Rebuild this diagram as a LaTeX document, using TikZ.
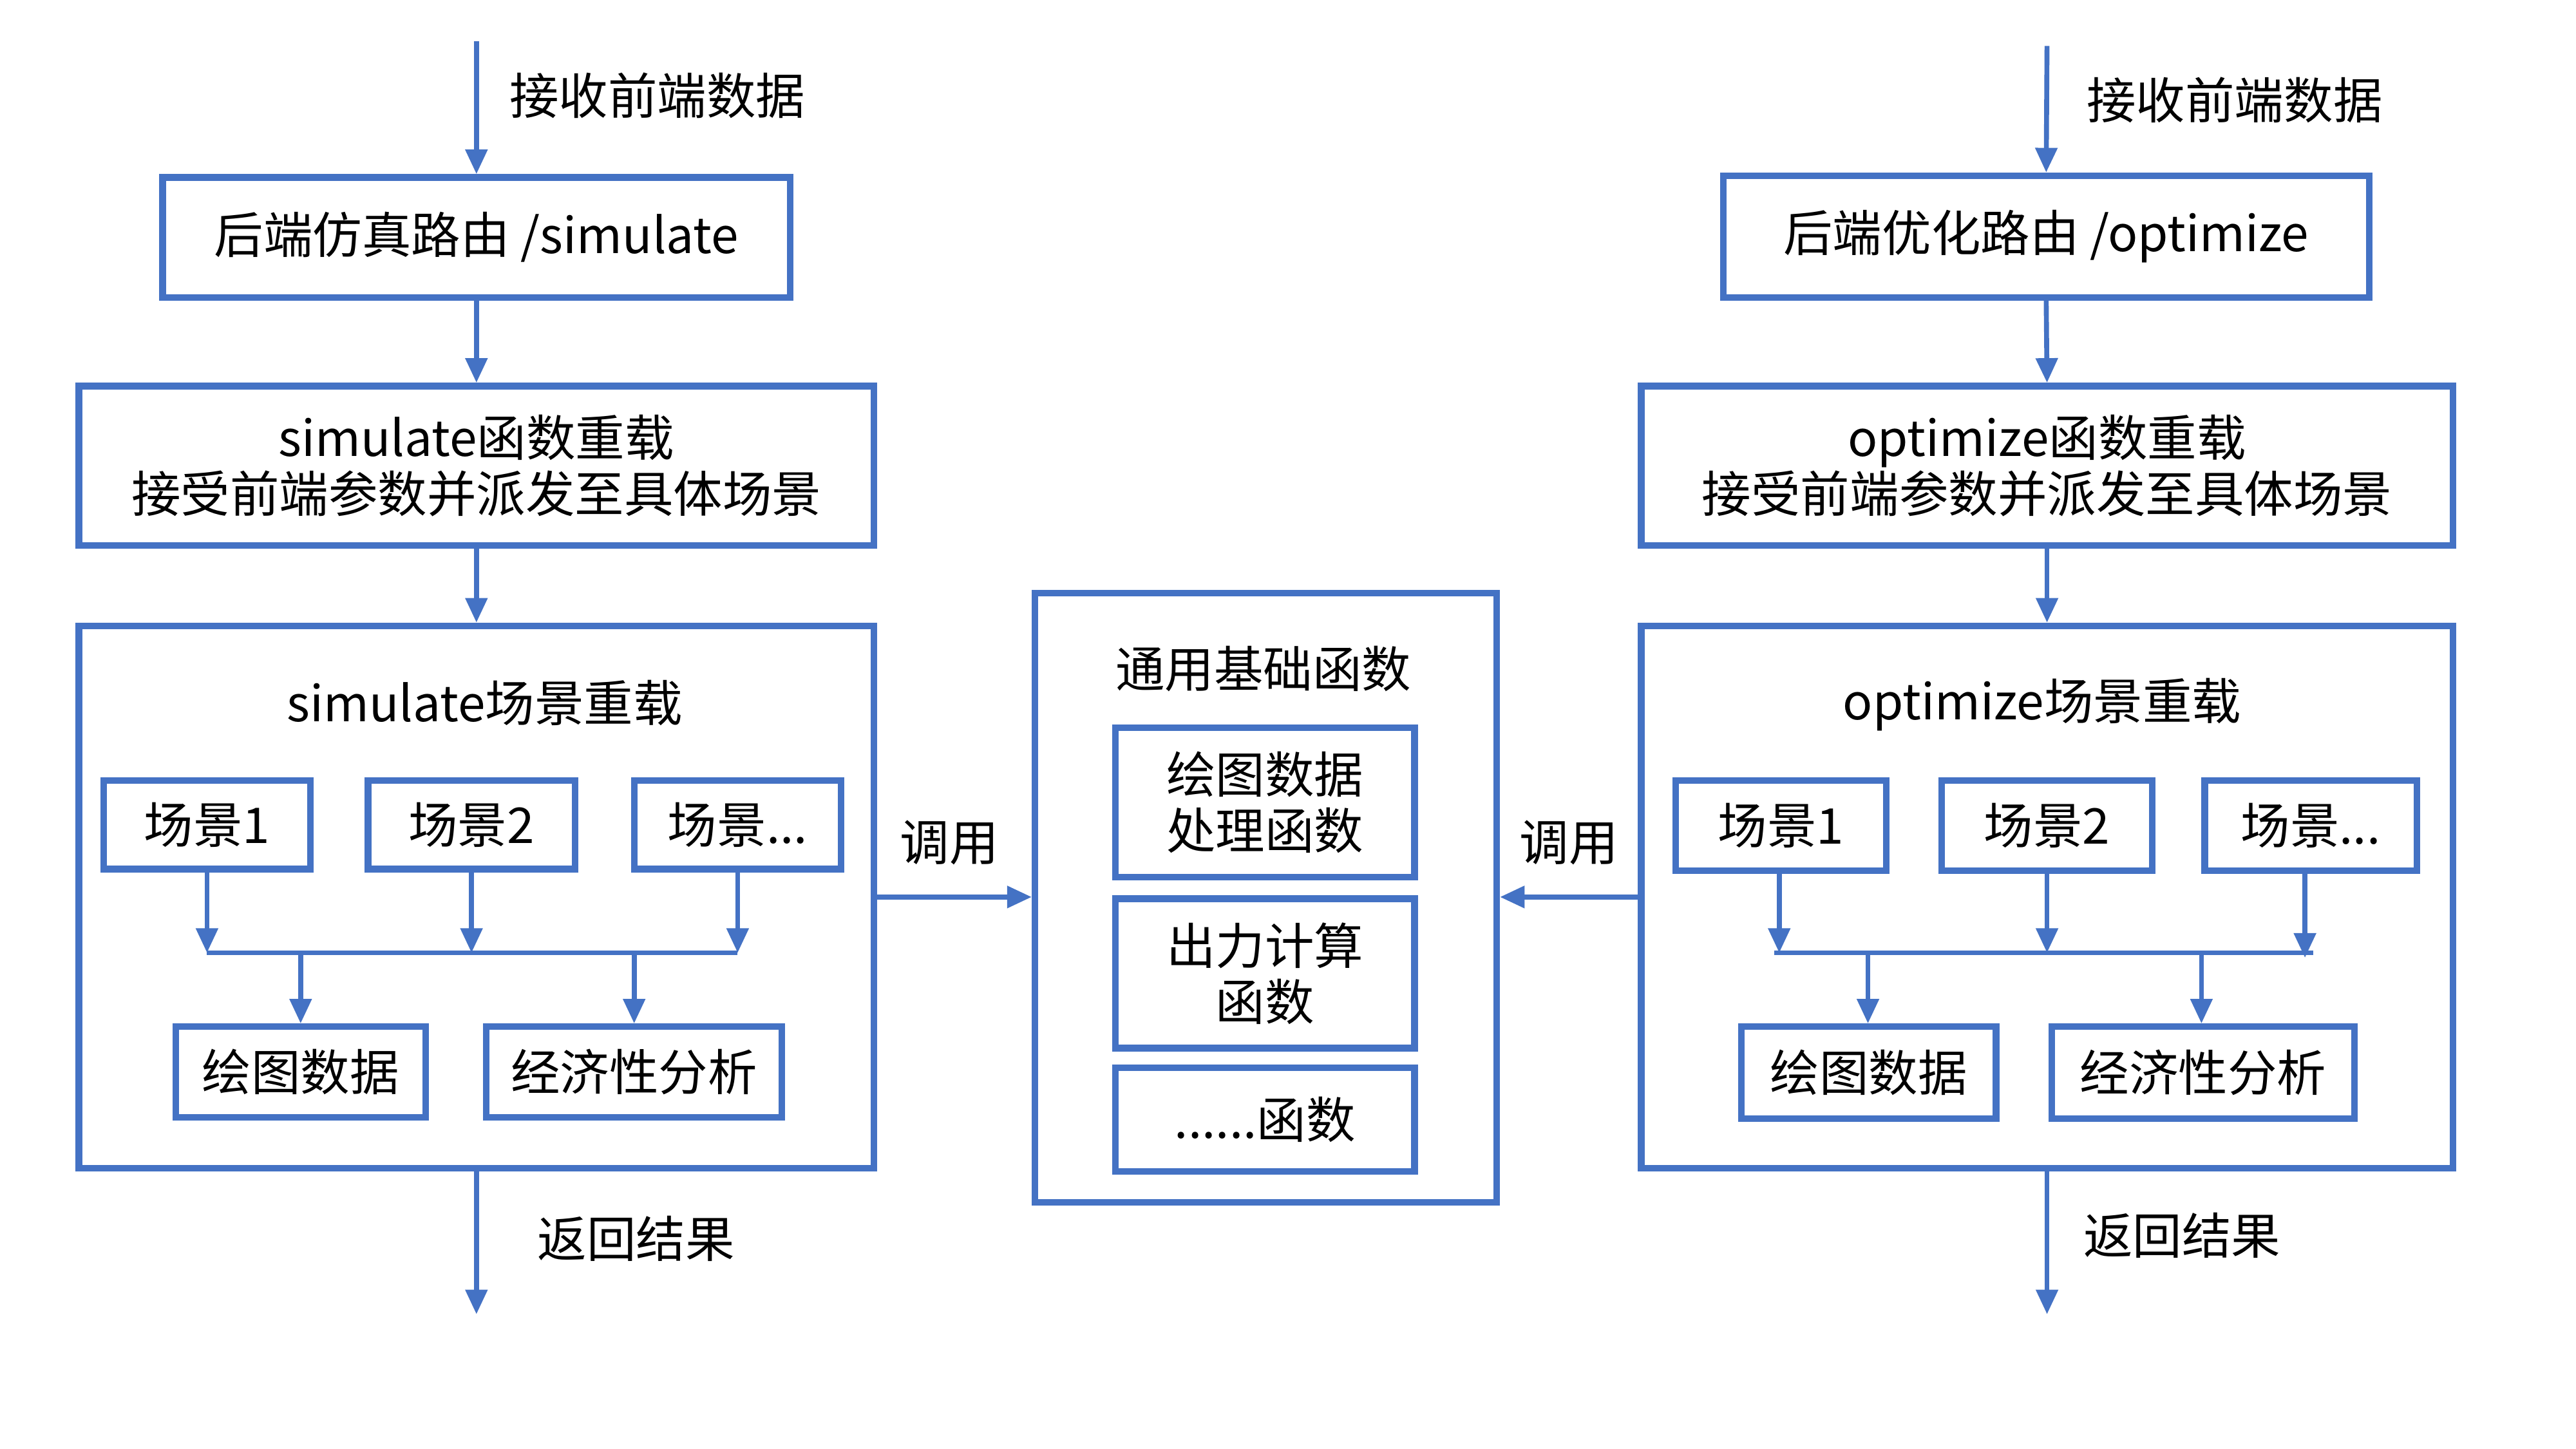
\documentclass[tikz,border=0pt]{standalone}
\usepackage{fontspec}
\setmainfont{Noto Sans CJK SC}
\usetikzlibrary{arrows.meta}
\definecolor{flowblue}{HTML}{4472C4}
\tikzset{
  box/.style={draw=flowblue, line width=4pt, fill=white, inner sep=0pt,
    align=center, font=\fontsize{30}{34}\selectfont},
  txt/.style={inner sep=0pt, font=\fontsize{30}{34}\selectfont},
  flow/.style={draw=flowblue, line width=3pt,
    -{Triangle[length=15pt,width=13pt]}},
  bus/.style={draw=flowblue, line width=3pt},
}
\begin{document}
\begin{tikzpicture}[x=1pt,y=-1pt]
\useasboundingbox (0,0) rectangle (1568,882);

% ---------- simulate column ----------
\node[box, minimum width=382pt, minimum height=73pt] (L1) at (290,144.5) {后端仿真路由 /simulate};
\node[box, minimum width=484pt, minimum height=97pt] (L2) at (290,283.5) {simulate函数重载\\接受前端参数并派发至具体场景};
\node[box, minimum width=484pt, minimum height=330pt] (L3) at (290,546) {};
\node[txt] (L3t) at (295,428) {simulate场景重载};
\node[box, minimum width=126pt, minimum height=54pt] (Ls1) at (126,502) {场景1};
\node[box, minimum width=126pt, minimum height=54pt] (Ls2) at (287,502) {场景2};
\node[box, minimum width=126pt, minimum height=54pt] (Ls3) at (449,502) {场景...};
\node[box, minimum width=152pt, minimum height=55pt] (Lp) at (183,652.5) {绘图数据};
\node[box, minimum width=180pt, minimum height=55pt] (Le) at (386,652.5) {经济性分析};

\coordinate (Lin) at (290,25);
\coordinate (Lout) at (290,800);
\coordinate (Lb1) at (126,580);
\coordinate (Lb2) at (287,580);
\coordinate (Lb3) at (449,580);
\coordinate (Lbp) at (183,580);
\coordinate (Lbe) at (386,580);

\draw[flow] (Lin) -- (L1.north);
\draw[flow] (L1.south) -- (L2.north);
\draw[flow] (L2.south) -- (L3.north);
\draw[flow] (L3.south) -- (Lout);
\draw[flow] (Ls1.south) -- (Lb1);
\draw[flow] (Ls2.south) -- (Lb2);
\draw[flow] (Ls3.south) -- (Lb3);
\draw[bus] (Lb1) -- (Lb3);
\draw[flow] (Lbp) -- (Lp.north);
\draw[flow] (Lbe) -- (Le.north);

\node[txt, anchor=west] (Lint) at (310,58) {接收前端数据};
\node[txt, anchor=west] (Loutt) at (327,754) {返回结果};

% ---------- shared functions ----------
\node[box, minimum width=281pt, minimum height=371pt] (M) at (770.5,546.5) {};
\node[txt] (Mt) at (769,407) {通用基础函数};
\node[box, minimum width=182pt, minimum height=91pt] (M1) at (770,488.5) {绘图数据\\处理函数};
\node[box, minimum width=182pt, minimum height=91pt] (M2) at (770,592.5) {出力计算\\函数};
\node[box, minimum width=182pt, minimum height=63pt] (M3) at (770,681.5) {......函数};

% ---------- optimize column ----------
\node[box, minimum width=393pt, minimum height=74pt] (R1) at (1245.5,144) {后端优化路由 /optimize};
\node[box, minimum width=494pt, minimum height=97pt] (R2) at (1246,283.5) {optimize函数重载\\接受前端参数并派发至具体场景};
\node[box, minimum width=494pt, minimum height=330pt] (R3) at (1246,546) {};
\node[txt] (R3t) at (1243,429) {optimize场景重载};
\node[box, minimum width=128pt, minimum height=55pt] (Rs1) at (1084,502.5) {场景1};
\node[box, minimum width=128pt, minimum height=55pt] (Rs2) at (1246,502.5) {场景2};
\node[box, minimum width=129pt, minimum height=55pt] (Rs3) at (1406.5,502.5) {场景...};
\node[box, minimum width=155pt, minimum height=56pt] (Rp) at (1137.5,653) {绘图数据};
\node[box, minimum width=184pt, minimum height=56pt] (Re) at (1341,653) {经济性分析};

\coordinate (Rin) at (1246,28);
\coordinate (Rout) at (1246,800);
\coordinate (Rb0) at (1080,580);
\coordinate (Rb1) at (1083,580);
\coordinate (Rb2) at (1246,580);
\coordinate (Rb3) at (1403,583);
\coordinate (Rb4) at (1408,580);
\coordinate (Rbp) at (1137,580);
\coordinate (Rbe) at (1340,580);

\draw[flow] (Rin) -- (R1.north);
\draw[flow] (R1.south) -- (R2.north);
\draw[flow] (R2.south) -- (R3.north);
\draw[flow] (R3.south) -- (Rout);
\draw[flow] (Rs1.south -| Rb1) -- (Rb1);
\draw[flow] (Rs2.south) -- (Rb2);
\draw[flow] (Rs3.south -| Rb3) -- (Rb3);
\draw[bus] (Rb0) -- (Rb4);
\draw[flow] (Rbp) -- (Rp.north -| Rbp);
\draw[flow] (Rbe) -- (Re.north -| Rbe);

\node[txt, anchor=west] (Rint) at (1270,61) {接收前端数据};
\node[txt, anchor=west] (Routt) at (1268,752) {返回结果};

% ---------- calls into the shared functions ----------
\draw[flow] (L3.east) -- (L3.east -| M.west);
\draw[flow] (R3.west) -- (R3.west -| M.east);
\node[txt] (Lcall) at (578,513) {调用};
\node[txt] (Rcall) at (955,513) {调用};
\end{tikzpicture}
\end{document}
